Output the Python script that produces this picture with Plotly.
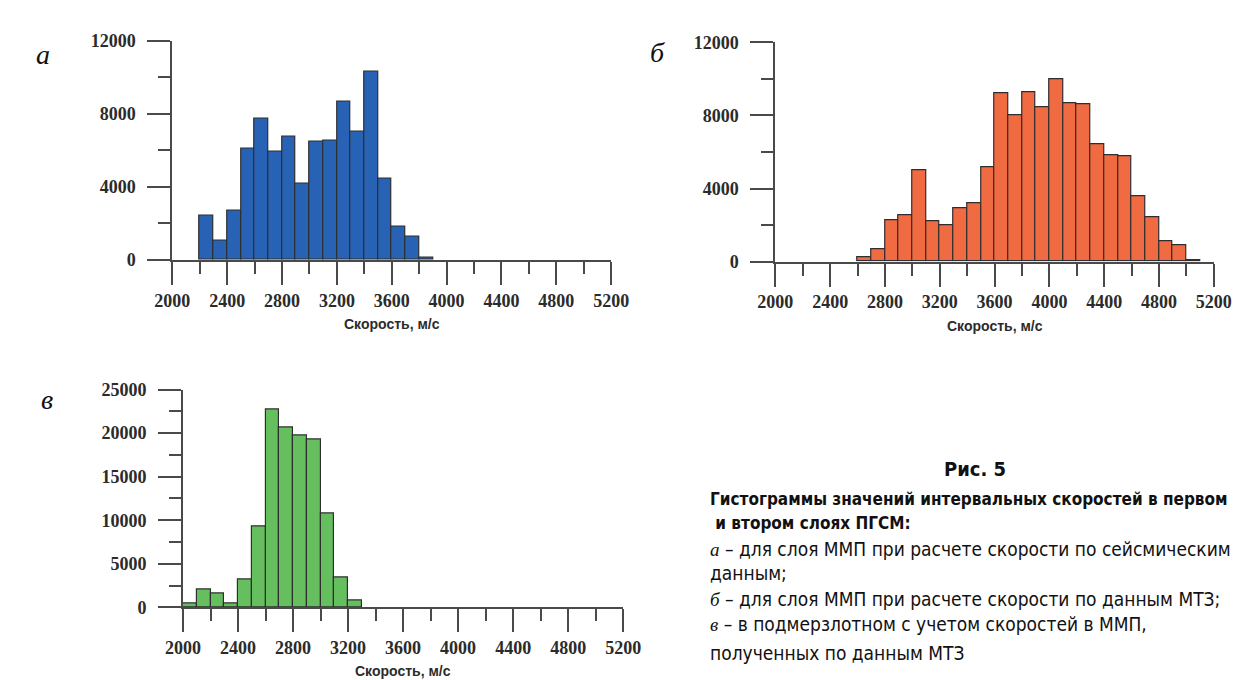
import plotly.graph_objects as go

W, H = 1242, 680

# ---- data (bin left edges in m/s, counts) ----
a_left = [2200, 2300, 2400, 2500, 2600, 2700, 2800, 2900, 3000, 3100, 3200, 3300, 3400, 3500, 3600, 3700, 3800]
a_counts = [2450, 1050, 2700, 6100, 7750, 5950, 6750, 4150, 6500, 6550, 8650, 7000, 10300, 4450, 1800, 1300, 150]

b_left = [2600, 2700, 2800, 2900, 3000, 3100, 3200, 3300, 3400, 3500, 3600, 3700, 3800,
          3900, 4000, 4100, 4200, 4300, 4400, 4500, 4600, 4700, 4800, 4900, 5000]
b_counts = [230, 650, 2250, 2550, 5000, 2200, 2000, 2900, 3200, 5150, 9200, 8000, 9250,
            8450, 10000, 8650, 8600, 6400, 5800, 5750, 3600, 2400, 1100, 900, 80]

v_left = [2000, 2100, 2200, 2300, 2400, 2500, 2600, 2700, 2800, 2900, 3000, 3100, 3200]
v_counts = [480, 2000, 1650, 450, 3250, 9300, 22700, 20650, 19750, 19250, 10750, 3450, 750]

bin_width = 100
x_title = "Скорость, м/с"
panel_letters = ["а", "б", "в"]
caption_title = "Рис. 5"
caption_head = ["Гистограммы значений интервальных скоростей в первом", " и втором слоях ПГСМ:"]
caption_body = [("а", " – для слоя ММП при расчете скорости по сейсмическим"),
                (None, "данным;"),
                ("б", " – для слоя ММП при расчете скорости по данным МТЗ;"),
                ("в", " – в подмерзлотном с учетом скоростей в ММП,"),
                (None, "полученных по данным МТЗ")]

# ---- style ----
AX = "#4a4a4a"
TICKFONT = dict(family="Liberation Serif", size=18, color="#2b2b2b", weight="bold")
BAR_LINE = dict(color="#2e2e2e", width=1.2)

def px_x(v):
    return v / W

def px_y(v):
    return 1 - v / H

fig = go.Figure()

panels = [
    dict(x0=150.7, x1=602.6, yt=23.3, yb=249.3, left=a_left, cnt=a_counts, col="#2862b4", ymax=12000, dt=4000),
    dict(x0=771.7, x1=1223.3, yt=25.0, yb=251.0, left=b_left, cnt=b_counts, col="#f06a42", ymax=12000, dt=4000),
    dict(x0=161.7, x1=615.0, yt=382.8, yb=607.3, left=v_left, cnt=v_counts, col="#66bf5f", ymax=25000, dt=5000),
]

annotations = []
for i, p in enumerate(panels, start=1):
    xa = "x" if i == 1 else f"x{i}"
    ya = "y" if i == 1 else f"y{i}"
    fig.add_trace(go.Bar(
        x=p["left"], y=p["cnt"], width=bin_width, offset=0,
        marker=dict(color=p["col"], line=BAR_LINE),
        xaxis=xa, yaxis=ya, showlegend=False, hoverinfo="x+y",
    ))
    xkey = "xaxis" if i == 1 else f"xaxis{i}"
    ykey = "yaxis" if i == 1 else f"yaxis{i}"
    fig.layout[xkey] = dict(
        domain=[px_x(p["x0"]), px_x(p["x1"])], anchor=ya, range=[2000, 5200],
        tick0=2000, dtick=400, tickformat="d", showgrid=False, zeroline=False,
        showline=True, linecolor=AX, linewidth=2,
        ticks="outside", ticklen=23, tickwidth=2, tickcolor=AX,
        tickfont=TICKFONT, ticklabelstandoff=0,
        minor=dict(ticks="outside", ticklen=12, tickwidth=2, tickcolor=AX,
                   tick0=2000, dtick=200, showgrid=False),
    )
    fig.layout[ykey] = dict(
        domain=[px_y(p["yb"]), px_y(p["yt"])], anchor=xa, range=[0, p["ymax"]],
        tick0=0, dtick=p["dt"], tickformat="d", showgrid=False, zeroline=False,
        showline=True, linecolor=AX, linewidth=2,
        ticks="outside", ticklen=23, tickwidth=2, tickcolor=AX,
        tickfont=TICKFONT, ticklabelstandoff=8,
        minor=dict(ticks="outside", ticklen=12, tickwidth=2, tickcolor=AX,
                   tick0=0, dtick=p["dt"] / 2, showgrid=False),
    )
    annotations.append(dict(
        text=x_title, xref="paper", yref="paper",
        x=px_x((p["x0"] + p["x1"]) / 2), y=px_y(p["yb"] + 66),
        xanchor="center", yanchor="middle", showarrow=False,
        font=dict(family="Liberation Sans", size=14, color="#2b2b2b", weight="bold"),
    ))

for letter, (lx, ly) in zip(panel_letters, [(18, 38), (650, 36), (22, 393)]):
    annotations.append(dict(
        text=f"<i>{letter}</i>", xref="paper", yref="paper", x=px_x(lx), y=px_y(ly),
        xanchor="center", yanchor="middle", showarrow=False,
        font=dict(family="Liberation Serif", size=28, color="#111"),
    ))

CAP_FONT = "Liberation Sans Narrow, DejaVu Sans Condensed, Roboto, sans-serif"
cap_x = 702
annotations.append(dict(
    text=f"<b>{caption_title}</b>", xref="paper", yref="paper", x=px_x(977), y=px_y(465),
    xanchor="center", yanchor="middle", showarrow=False,
    font=dict(family=CAP_FONT, size=20, color="#111"),
))
for txt, yy in zip(caption_head, [496, 520]):
    annotations.append(dict(
        text=f"<b>{txt}</b>", xref="paper", yref="paper", x=px_x(cap_x), y=px_y(yy),
        xanchor="left", yanchor="middle", showarrow=False,
        font=dict(family=CAP_FONT, size=17, color="#111"),
    ))
for (it, txt), yy in zip(caption_body, [547, 572, 599, 624, 654]):
    s = txt
    if it:
        s = f"<span style='font-family:Liberation Serif'><i>{it}</i></span>" + txt
    annotations.append(dict(
        text=s, xref="paper", yref="paper", x=px_x(cap_x), y=px_y(yy),
        xanchor="left", yanchor="middle", showarrow=False,
        font=dict(family=CAP_FONT, size=19, color="#111"),
    ))

fig.update_layout(
    width=W, height=H, margin=dict(l=0, r=0, t=0, b=0),
    paper_bgcolor="white", plot_bgcolor="white",
    annotations=annotations, bargap=0,
)

fig.write_html("out.html")
